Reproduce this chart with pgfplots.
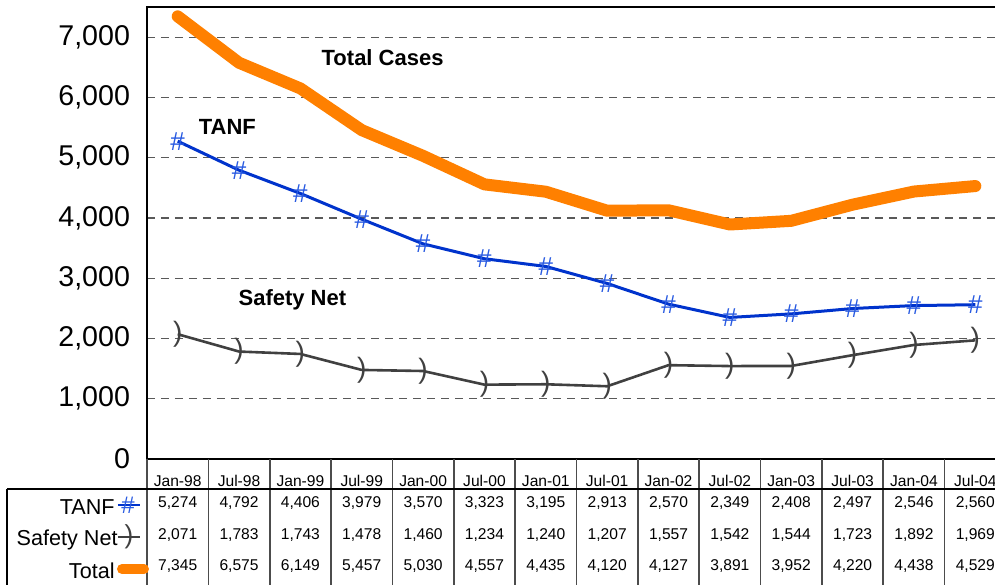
\documentclass[border=0pt]{standalone}
\usepackage{pgfplots}
\pgfplotsset{compat=1.18}
\usepackage{pgfplotstable}
\usepackage{fontspec}
\setmainfont{Liberation Sans}
\definecolor{totorange}{RGB}{255,128,0}
\definecolor{tanfblue}{RGB}{0,51,204}
\definecolor{markblue}{RGB}{40,90,225}
\definecolor{netgray}{RGB}{64,64,64}

\pgfplotstableread{
x tanf safety total
0 5274 2071 7345
1 4792 1783 6575
2 4406 1743 6149
3 3979 1478 5457
4 3570 1460 5030
5 3323 1234 4557
6 3195 1240 4435
7 2913 1207 4120
8 2570 1557 4127
9 2349 1542 3891
10 2408 1544 3952
11 2497 1723 4220
12 2546 1892 4438
13 2560 1969 4529
}\casedata

\begin{document}
\begin{tikzpicture}
\begin{axis}[
  name=ax,
  scale only axis,
  width=429.5pt, height=226pt,
  xmin=-0.5, xmax=13.5,
  ymin=0, ymax=7500,
  xtick={0,...,13},
  xticklabels={Jan-98,Jul-98,Jan-99,Jul-99,Jan-00,Jul-00,Jan-01,Jul-01,Jan-02,Jul-02,Jan-03,Jul-03,Jan-04,Jul-04},
  ytick={0,1000,...,7000},
  scaled y ticks=false,
  /pgf/number format/assume math mode=true,
  /pgf/number format/1000 sep={,},
  major tick length=0pt,
  ymajorgrids,
  grid style={dash pattern=on 4pt off 3pt, black!65, line width=0.6pt},
  axis line style={line width=0.6pt},
  yticklabel style={font=\fontsize{14.3}{16}\selectfont, xshift=-5pt},
  xticklabel style={font=\fontsize{7.8}{9}\selectfont, anchor=base, yshift=-13.5pt},
  clip=false,
]
% table grid below the axis
\pgfplotsinvokeforeach{-0.5,0.5,...,13.5}{
  \draw[black!70, line width=0.8pt] (axis cs:#1,0) -- ++(0pt,-70pt);
}
\draw[black, line width=0.8pt] ([xshift=-70pt,yshift=-15pt]rel axis cs:0,0) -- ++(0pt,-60pt);
\draw[black, line width=0.8pt] ([xshift=-70pt,yshift=-15pt]rel axis cs:0,0) -- ([yshift=-15pt]rel axis cs:1,0);

\addplot[totorange, line width=6pt, line cap=round, line join=round]
  table[x=x, y=total]{\casedata};
\addplot[tanfblue, line width=1.5pt, mark=text, text mark={\#}, text mark as node=true,
  text mark style={font=\fontsize{13}{13}\selectfont, text=markblue, inner sep=0pt}]
  table[x=x, y=tanf]{\casedata};
\addplot[netgray, line width=1.3pt, mark=text, text mark={)}, text mark as node=true,
  text mark style={font=\fontsize{14}{14}\selectfont, text=netgray, inner sep=0pt}]
  table[x=x, y=safety]{\casedata};

% table values
\addplot[draw=none, point meta=explicit,
  nodes near coords={\pgfmathprintnumber[fixed,precision=0,1000 sep={,}]{\pgfplotspointmeta}},
  nodes near coords style={font=\fontsize{7.8}{9}\selectfont, anchor=base, yshift=-24.2pt, inner sep=0pt}]
  table[x=x, y expr=0, meta=tanf]{\casedata};
\addplot[draw=none, point meta=explicit,
  nodes near coords={\pgfmathprintnumber[fixed,precision=0,1000 sep={,}]{\pgfplotspointmeta}},
  nodes near coords style={font=\fontsize{7.8}{9}\selectfont, anchor=base, yshift=-40.2pt, inner sep=0pt}]
  table[x=x, y expr=0, meta=safety]{\casedata};
\addplot[draw=none, point meta=explicit,
  nodes near coords={\pgfmathprintnumber[fixed,precision=0,1000 sep={,}]{\pgfplotspointmeta}},
  nodes near coords style={font=\fontsize{7.8}{9}\selectfont, anchor=base, yshift=-55.8pt, inner sep=0pt}]
  table[x=x, y expr=0, meta=total]{\casedata};

% series titles
\node[font=\bfseries\fontsize{11}{13}\selectfont] at (axis cs:3.34,6668) {Total Cases};
\node[font=\bfseries\fontsize{11}{13}\selectfont] at (axis cs:0.81,5507) {TANF};
\node[font=\bfseries\fontsize{11}{13}\selectfont] at (axis cs:1.87,2637) {Safety Net};

% row labels with legend keys
\node[anchor=base east, inner sep=0pt, font=\fontsize{10.8}{12}\selectfont]
  at ([xshift=-16pt,yshift=-27.5pt]rel axis cs:0,0) {TANF};
\draw[tanfblue, line width=1.2pt] ([xshift=-14.5pt,yshift=-23pt]rel axis cs:0,0) -- ++(11pt,0pt);
\node[inner sep=0pt, text=markblue, font=\fontsize{12}{12}\selectfont]
  at ([xshift=-9.5pt,yshift=-23pt]rel axis cs:0,0) {\#};
\node[anchor=base east, inner sep=0pt, font=\fontsize{10.8}{12}\selectfont]
  at ([xshift=-14.5pt,yshift=-43pt]rel axis cs:0,0) {Safety Net};
\draw[netgray, line width=1.2pt] ([xshift=-14.5pt,yshift=-39pt]rel axis cs:0,0) -- ++(11pt,0pt);
\node[inner sep=0pt, text=netgray, font=\fontsize{13}{13}\selectfont]
  at ([xshift=-9pt,yshift=-39pt]rel axis cs:0,0) {)};
\node[anchor=base east, inner sep=0pt, font=\fontsize{10.8}{12}\selectfont]
  at ([xshift=-16pt,yshift=-59.5pt]rel axis cs:0,0) {Total};
\draw[totorange, line width=5pt, line cap=round] ([xshift=-12.5pt,yshift=-55pt]rel axis cs:0,0) -- ++(11pt,0pt);
\end{axis}
\pgfresetboundingbox
\path[use as bounding box] ([shift={(-73.5pt,-62.5pt)}]ax.south west) rectangle ([shift={(424pt,229.5pt)}]ax.south west);
\end{tikzpicture}
\end{document}
